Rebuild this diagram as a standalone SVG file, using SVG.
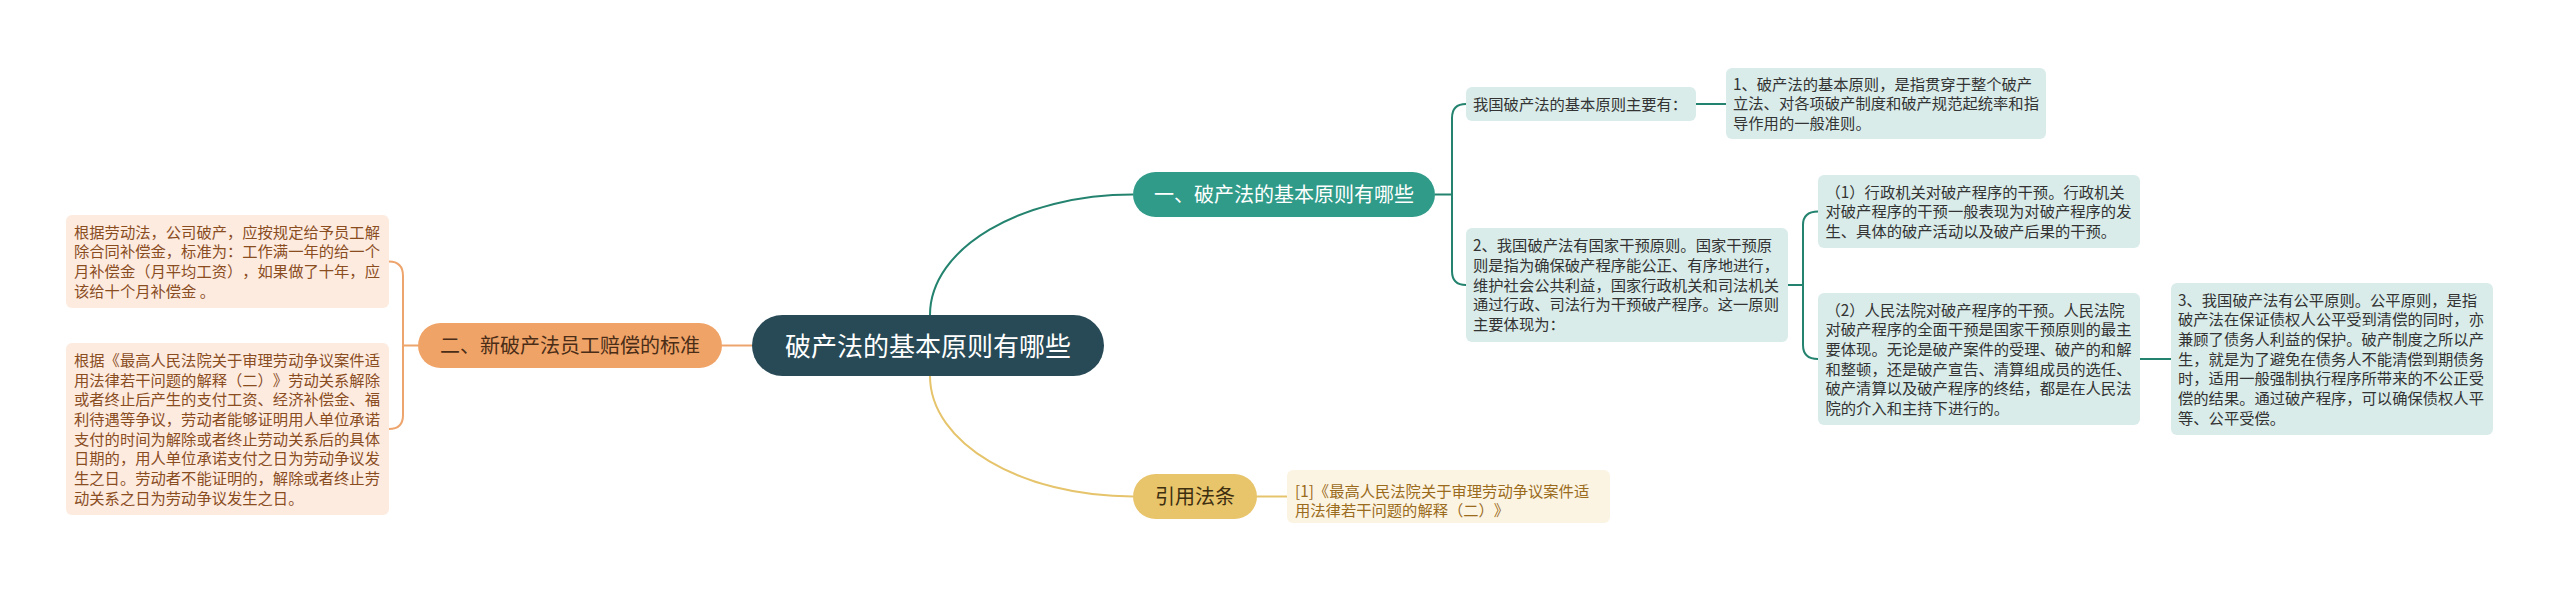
<svg xmlns="http://www.w3.org/2000/svg" width="2560" height="591" viewBox="0 0 2560 591">
<style>
text{font-family:"Noto Sans CJK SC","Noto Sans",sans-serif;text-spacing-trim:space-all}
.ln{fill:none;stroke-width:2}
.t{stroke:#23836f}
.o{stroke:#eea56d}
.y{stroke:#e6c46c}
.bt{fill:#d9ecea}
.tt{font-size:15.3px;fill:#333333}
.bo{fill:#fdebdf}
.to{font-size:15.3px;fill:#8a4d1f}
.by{fill:#fcf4e2}
.ty{font-size:15.3px;fill:#9a6b1c}
.mid{font-size:20px;text-anchor:middle}
</style>
<rect width="2560" height="591" fill="#ffffff"/>
<g id="connectors">
<path class="ln t" d="M930,315 C930,248 1021,194.5 1133,194.5"/>
<path class="ln y" d="M930,376 C930,443 1021,496.5 1133,496.5"/>
<path class="ln o" d="M752,345.5 L722,345.5"/>
<path class="ln o" d="M418,345.5 L403,345.5 M389,261.5 Q403,261.5 403,276 L403,415 Q403,429 389,429"/>
<path class="ln t" d="M1435,194.5 L1452,194.5 M1466,104 Q1452,104 1452,118 L1452,271 Q1452,285 1466,285"/>
<path class="ln t" d="M1696,104 L1726,104"/>
<path class="ln t" d="M1788,285 L1803,285 M1818,211.5 Q1803,211.5 1803,225 L1803,345 Q1803,359 1818,359"/>
<path class="ln t" d="M2140,359 L2171,359"/>
<path class="ln y" d="M1257,496.5 L1287,496.5"/>
</g>
<g id="root">
<rect x="752" y="315" width="352" height="61" rx="30.5" fill="#274a56"/>
<text x="928" y="355.5" font-size="26" fill="#ffffff" text-anchor="middle">破产法的基本原则有哪些</text>
</g>
<g id="branch1">
<rect x="1133" y="172" width="302" height="45" rx="22.5" fill="#309b89"/>
<text class="mid" x="1284" y="202" fill="#ffffff">一、破产法的基本原则有哪些</text>
</g>
<g id="branch2">
<rect x="418" y="323" width="304" height="45" rx="22.5" fill="#f0a367"/>
<text class="mid" x="570" y="353" fill="#4a2d17">二、新破产法员工赔偿的标准</text>
</g>
<g id="branch3">
<rect x="1133" y="474" width="124" height="45" rx="22.5" fill="#e8c46b"/>
<text class="mid" x="1195" y="504" fill="#3d2f10">引用法条</text>
</g>
<g id="n-main">
<rect class="bt" x="1466" y="87" width="230" height="34" rx="6"/>
<text class="tt" x="1473" y="109.7">我国破产法的基本原则主要有：</text>
</g>
<g id="n-p1">
<rect class="bt" x="1726" y="68" width="320" height="71" rx="6"/>
<text class="tt"><tspan x="1733" y="89.6">1、破产法的基本原则，是指贯穿于整个破产</tspan><tspan x="1733" y="109.3">立法、对各项破产制度和破产规范起统率和指</tspan><tspan x="1733" y="129">导作用的一般准则。</tspan></text>
</g>
<g id="n-p2">
<rect class="bt" x="1466" y="228" width="322" height="114" rx="6"/>
<text class="tt"><tspan x="1473" y="251.3">2、我国破产法有国家干预原则。国家干预原</tspan><tspan x="1473" y="271">则是指为确保破产程序能公正、有序地进行，</tspan><tspan x="1473" y="290.7">维护社会公共利益，国家行政机关和司法机关</tspan><tspan x="1473" y="310.4">通过行政、司法行为干预破产程序。这一原则</tspan><tspan x="1473" y="330.1">主要体现为：</tspan></text>
</g>
<g id="n-p2a">
<rect class="bt" x="1818" y="175" width="322" height="73" rx="6"/>
<text class="tt"><tspan x="1825.5" y="197.5">（1）行政机关对破产程序的干预。行政机关</tspan><tspan x="1825.5" y="217.2">对破产程序的干预一般表现为对破产程序的发</tspan><tspan x="1825.5" y="236.9">生、具体的破产活动以及破产后果的干预。</tspan></text>
</g>
<g id="n-p2b">
<rect class="bt" x="1818" y="293" width="322" height="132" rx="6"/>
<text class="tt"><tspan x="1825.5" y="315.5">（2）人民法院对破产程序的干预。人民法院</tspan><tspan x="1825.5" y="335.2">对破产程序的全面干预是国家干预原则的最主</tspan><tspan x="1825.5" y="354.9">要体现。无论是破产案件的受理、破产的和解</tspan><tspan x="1825.5" y="374.6">和整顿，还是破产宣告、清算组成员的选任、</tspan><tspan x="1825.5" y="394.3">破产清算以及破产程序的终结，都是在人民法</tspan><tspan x="1825.5" y="414">院的介入和主持下进行的。</tspan></text>
</g>
<g id="n-p3">
<rect class="bt" x="2171" y="283" width="322" height="152" rx="6"/>
<text class="tt"><tspan x="2178" y="305.6">3、我国破产法有公平原则。公平原则，是指</tspan><tspan x="2178" y="325.3">破产法在保证债权人公平受到清偿的同时，亦</tspan><tspan x="2178" y="345">兼顾了债务人利益的保护。破产制度之所以产</tspan><tspan x="2178" y="364.7">生，就是为了避免在债务人不能清偿到期债务</tspan><tspan x="2178" y="384.4">时，适用一般强制执行程序所带来的不公正受</tspan><tspan x="2178" y="404.1">偿的结果。通过破产程序，可以确保债权人平</tspan><tspan x="2178" y="423.8">等、公平受偿。</tspan></text>
</g>
<g id="n-comp1">
<rect class="bo" x="66" y="215" width="323" height="93" rx="6"/>
<text class="to"><tspan x="74" y="237.7">根据劳动法，公司破产，应按规定给予员工解</tspan><tspan x="74" y="257.4">除合同补偿金，标准为：工作满一年的给一个</tspan><tspan x="74" y="277.1">月补偿金（月平均工资），如果做了十年，应</tspan><tspan x="74" y="296.8">该给十个月补偿金 。</tspan></text>
</g>
<g id="n-comp2">
<rect class="bo" x="66" y="343" width="323" height="172" rx="6"/>
<text class="to"><tspan x="74" y="365.8">根据《最高人民法院关于审理劳动争议案件适</tspan><tspan x="74" y="385.5">用法律若干问题的解释（二）》劳动关系解除</tspan><tspan x="74" y="405.2">或者终止后产生的支付工资、经济补偿金、福</tspan><tspan x="74" y="424.9">利待遇等争议，劳动者能够证明用人单位承诺</tspan><tspan x="74" y="444.6">支付的时间为解除或者终止劳动关系后的具体</tspan><tspan x="74" y="464.3">日期的，用人单位承诺支付之日为劳动争议发</tspan><tspan x="74" y="484">生之日。劳动者不能证明的，解除或者终止劳</tspan><tspan x="74" y="503.7">动关系之日为劳动争议发生之日。</tspan></text>
</g>
<g id="n-cite">
<rect class="by" x="1287" y="470" width="323" height="53" rx="6"/>
<text class="ty"><tspan x="1295" y="496.5">[1]《最高人民法院关于审理劳动争议案件适</tspan><tspan x="1295" y="516.2">用法律若干问题的解释（二）》</tspan></text>
</g>
</svg>
